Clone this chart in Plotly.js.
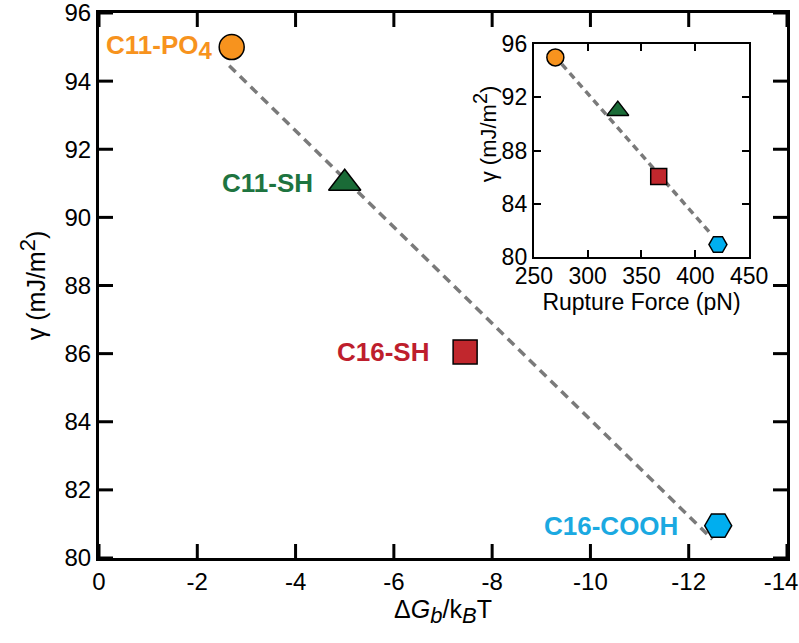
<!DOCTYPE html>
<html>
<head>
<meta charset="utf-8">
<script src="https://cdn.plot.ly/plotly-3.0.1.min.js"></script>
<style>html,body{margin:0;padding:0;background:#fff;}#chart{width:799px;height:643px;}</style>
</head>
<body>
<div id="chart"></div>
<script>
// ---- data ----
const groups = ['C11-PO4', 'C11-SH', 'C16-SH', 'C16-COOH'];
const groupLabels = ['C11-PO<sub><span style="font-size:24px">4</span></sub>', 'C11-SH', 'C16-SH', 'C16-COOH'];
const dGb = [-2.7, -5.0, -7.45, -12.6];          // ΔG_b/k_BT
const gammaVals = [95.0, 91.0, 86.05, 80.95];     // γ (mJ/m²)
const ruptureForce = [270, 328, 366, 421];       // pN
const fitMainX = [-2.65, -12.48];
const fitMainY = [94.45, 80.55];
const fitInsetX = [276, 414];
const fitInsetY = [94.5, 81.8];
const mainXRange = [0, -14];
const mainYRange = [80, 96];
const mainXTicks = [0, -2, -4, -6, -8, -10, -12, -14];
const mainXTickText = ['0', '-2', '-4', '-6', '-8', '-10', '-12', '-14\u2002'];
const mainYTicks = [80, 82, 84, 86, 88, 90, 92, 94, 96];
const insetXTicks = [250, 300, 350, 400, 450];
const insetYTicks = [80, 84, 88, 92, 96];

// ---- styles ----
const FONT = 'Liberation Sans, Arial, Helvetica, sans-serif';
const fillColors = ['#F7931E', '#1A6B37', '#C1272D', '#00AEEF'];
const textColors = ['#F7931E', '#1E7440', '#BE1E2D', '#1BA9E1'];
const symbols = ['circle', 'triangle-up', 'square', 'hexagon2'];
const mainSizes = [25, 28, 24, 27];
const insetSizes = [17, 19, 16, 18];
const labelShift = [-17, -30, -34, -38];
const W = 799, H = 643;
const MARGIN = {l: 99, r: 12, t: 13, b: 85};
const MAIN_TICK_LEN = 14, MAIN_TICK_W = 3;

// tick length (pixels) converted to data units of the main axes
const xUnitsPerPx = (mainXRange[1] - mainXRange[0]) / (W - MARGIN.l - MARGIN.r);
const yUnitsPerPx = (mainYRange[1] - mainYRange[0]) / (H - MARGIN.t - MARGIN.b);
const dxTick = MAIN_TICK_LEN * xUnitsPerPx;
const dyTick = MAIN_TICK_LEN * yUnitsPerPx;

// inside tick marks of the main chart as unclipped line segments (all four sides)
const tickX = [], tickY = [];
mainXTicks.forEach(v => {
  tickX.push(v, v, null); tickY.push(mainYRange[0], mainYRange[0] + dyTick, null);
  tickX.push(v, v, null); tickY.push(mainYRange[1], mainYRange[1] - dyTick, null);
});
mainYTicks.forEach(v => {
  tickX.push(mainXRange[0], mainXRange[0] + dxTick, null); tickY.push(v, v, null);
  tickX.push(mainXRange[1], mainXRange[1] - dxTick, null); tickY.push(v, v, null);
});

// inset uses x/y, main chart uses x2/y2
const traces = [
  {x: fitMainX, y: fitMainY, mode: 'lines', xaxis: 'x2', yaxis: 'y2',
   line: {color: '#7a7a7a', width: 3.5, dash: '9px,6px'}, hoverinfo: 'skip'},
  {x: dGb, y: gammaVals, mode: 'markers', xaxis: 'x2', yaxis: 'y2', text: groups,
   marker: {symbol: symbols, size: mainSizes, color: fillColors, opacity: 1, line: {color: '#000', width: 1.5}}},
  {x: tickX, y: tickY, mode: 'lines', xaxis: 'x2', yaxis: 'y2', cliponaxis: false, connectgaps: false,
   line: {color: '#000', width: MAIN_TICK_W}, hoverinfo: 'skip'},
  {x: fitInsetX, y: fitInsetY, mode: 'lines', xaxis: 'x', yaxis: 'y',
   line: {color: '#7a7a7a', width: 3.5, dash: '7px,5px'}, hoverinfo: 'skip'},
  {x: ruptureForce, y: gammaVals, mode: 'markers', xaxis: 'x', yaxis: 'y', text: groups,
   marker: {symbol: symbols, size: insetSizes, color: fillColors, opacity: 1, line: {color: '#000', width: 1.5}}}
];

const annotations = groups.map((g, i) => ({
  x: dGb[i], y: gammaVals[i], xref: 'x2', yref: 'y2',
  text: '<b>' + groupLabels[i] + '</b>', showarrow: false,
  xanchor: 'right', yanchor: 'middle', xshift: labelShift[i],
  font: {family: FONT, size: 26, color: textColors[i]}
}));
// inset y-axis title
annotations.push({
  xref: 'x domain', yref: 'y domain', x: -0.228, y: 0.58,
  text: 'γ (mJ/m<sup><span style="font-size:20px">2</span></sup>)', textangle: -90, showarrow: false,
  xanchor: 'center', yanchor: 'middle', font: {family: FONT, size: 22, color: '#000'}
});

const layout = {
  width: W, height: H,
  margin: MARGIN,
  paper_bgcolor: '#fff', plot_bgcolor: 'rgba(0,0,0,0)',
  showlegend: false,
  font: {family: FONT, color: '#000'},
  xaxis2: {
    domain: [0, 1], anchor: 'y2',
    range: mainXRange, tickvals: mainXTicks, ticktext: mainXTickText,
    ticks: '', showline: true, linewidth: 3, linecolor: '#000', mirror: true,
    showgrid: false, zeroline: false, ticklabeloverflow: 'allow',
    tickfont: {size: 24, family: FONT},
    title: {text: 'Δ<i>G</i><sub><i><span style="font-size:22px">b</span></i></sub>/k<sub><i><span style="font-size:22px">B</span></i></sub>T',
            font: {size: 25, family: FONT}, standoff: 2}
  },
  yaxis2: {
    domain: [0, 1], anchor: 'x2',
    range: mainYRange, tickvals: mainYTicks,
    ticks: '', showline: true, linewidth: 3, linecolor: '#000', mirror: true,
    showgrid: false, zeroline: false, ticklabeloverflow: 'allow',
    tickfont: {size: 24, family: FONT},
    title: {text: 'γ (mJ/m<sup><span style="font-size:22px">2</span></sup>)', font: {size: 25, family: FONT}, standoff: 12}
  },
  xaxis: {
    domain: [0.632, 0.945], anchor: 'y',
    range: [250, 450], tickvals: insetXTicks,
    ticks: 'inside', ticklen: 7, tickwidth: 2, tickcolor: '#000',
    showline: true, linewidth: 2, linecolor: '#000', mirror: 'ticks',
    showgrid: false, zeroline: false, ticklabeloverflow: 'allow', ticklabelstandoff: -3,
    tickfont: {size: 23, family: FONT},
    title: {text: 'Rupture Force (pN)', font: {size: 23, family: FONT}, standoff: 0}
  },
  yaxis: {
    domain: [0.552, 0.943], anchor: 'x',
    range: [80, 96], tickvals: insetYTicks,
    ticks: 'inside', ticklen: 7, tickwidth: 2, tickcolor: '#000',
    showline: true, linewidth: 2, linecolor: '#000', mirror: 'ticks',
    showgrid: false, zeroline: false, ticklabeloverflow: 'allow',
    tickfont: {size: 23, family: FONT}
  },
  annotations: annotations
};

Plotly.newPlot('chart', traces, layout, {displayModeBar: false, staticPlot: true});
</script>
</body>
</html>
